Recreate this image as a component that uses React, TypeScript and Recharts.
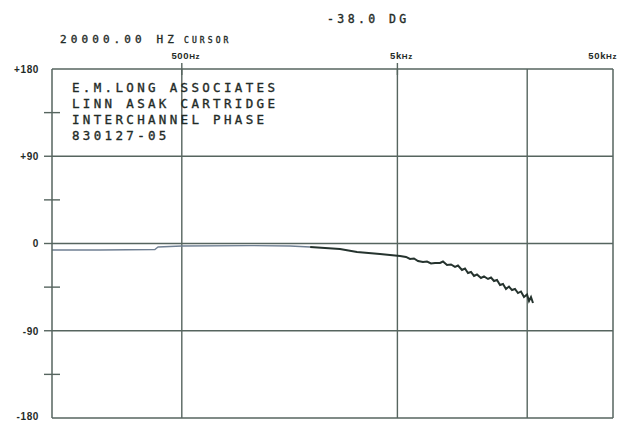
import React from 'react';
import { LineChart, Line, XAxis, YAxis, ReferenceLine } from 'recharts';

// Frequency (Hz) and interchannel phase (degrees)
const freqHz = [
  125, 209, 375, 388, 500, 1036, 1589, 1969, 2707, 3248, 4150, 4618,
  5143, 5481, 5721, 5969, 6230, 6572, 6859, 7160, 7471,
  7880, 8136, 8493, 8863, 9249, 9549, 9966, 10290, 10625, 10972, 11329, 11699,
  12210, 12607, 13159, 13588, 14027, 14486, 14962, 15443, 15944, 16463, 17000,
  17550, 18125, 18710, 19325, 19960, 20390, 20825, 21275,
];
const phaseDeg = [
  -6.7, -6.7, -6.2, -3.6, -2.6, -2.1, -2.6, -3.6, -5.7, -8.8, -10.8, -11.9,
  -12.9, -13.9, -16.0, -15.5, -18.1, -19.1, -18.6, -20.6, -20.1,
  -20.1, -18.6, -22.2, -21.6, -24.2, -22.7, -27.3, -25.8, -30.4, -29.4, -33.5, -32.0,
  -35.6, -34.0, -36.6, -35.1, -38.7, -37.6, -42.8, -41.8, -46.9, -44.4, -48.0,
  -46.9, -51.1, -49.5, -55.2, -52.6, -59.3, -55.2, -61.4,
];
const splitHz = 1969;

const xTicks = [500, 5000, 50000];
const xTickNums = ['500', '5k', '50k'];
const yTicks = [-180, -135, -90, -45, 0, 45, 90, 135, 180];
const yTickLabels: Record<string, string> = { '180': '+180', '90': '+90', '0': '0', '-90': '-90', '-180': '-180' };
const gridFreqs = [500, 5000, 20000];
const gridPhases = [90, 0, -90, -180];
const titleLines = ['E.M.LONG ASSOCIATES', 'LINN ASAK CARTRIDGE', 'INTERCHANNEL PHASE', '830127-05'];
const cursorText = '20000.00 HZ';
const cursorWord = 'CURSOR';
const readoutText = '-38.0 DG';

const GRID = '#56655f';
const INK = '#1f2b27';
const MONO = '"DejaVu Sans Mono", monospace';
const SANS = '"Liberation Sans", Arial, sans-serif';

const data = freqHz.map((f, i) => ({
  f,
  lo: f <= splitHz ? phaseDeg[i] : null,
  hi: f >= splitHz ? phaseDeg[i] : null,
}));

const LeftTick = (props: any) => {
  const { x, y, payload } = props;
  const v = payload.value;
  const label = yTickLabels[String(v)];
  const minor = Math.abs(v) === 45 || Math.abs(v) === 135;
  const major = v === 90 || v === 0 || v === -90;
  return (
    <g>
      {minor && <line x1={x - 8} x2={x + 8} y1={y} y2={y} stroke={GRID} strokeWidth={1.4} />}
      {major && <line x1={x - 8} x2={x} y1={y} y2={y} stroke={GRID} strokeWidth={1.4} />}
      {label && (
        <text x={x - 13} y={y} dy={v === -180 ? 1.5 : 3.8} textAnchor="end" fontFamily={SANS} fontWeight={700}
          fontSize={10} letterSpacing={0.6} fill={INK}>{label}</text>
      )}
    </g>
  );
};

const RightTick = (props: any) => {
  const { x, y, payload } = props;
  const v = payload.value;
  if (Math.abs(v) === 180) return <g />;
  return (
    <g>
      <line x1={x - 8} x2={x + 6} y1={y} y2={y} stroke={GRID} strokeWidth={1.4} />
    </g>
  );
};

const TopTick = (props: any) => {
  const { x, y, payload, index } = props;
  const v = payload.value;
  const last = v === 50000;
  return (
    <g>
      {!last && <line x1={x} x2={x} y1={y - 6} y2={y + 6} stroke={GRID} strokeWidth={1.4} />}
      <text x={x + 4} y={y - 10} textAnchor={last ? 'end' : 'middle'}
        fontFamily={SANS} fontWeight={700} fontSize={9.5} letterSpacing={0.6} fill={INK}>
        {xTickNums[index]}
        <tspan fontSize={8}>Hz</tspan>
      </text>
    </g>
  );
};

export default function App() {
  return (
    <div style={{ position: 'absolute', left: 0, top: 0, width: 626, height: 422, background: '#fff' }}>
      <LineChart width={626} height={422} data={data} margin={{ top: 49, left: 0, right: 5, bottom: 4 }}>
        <XAxis xAxisId="top" orientation="top" dataKey="f" type="number" scale="log"
          domain={[125, 50000]} allowDataOverflow ticks={xTicks} height={20}
          axisLine={{ stroke: GRID, strokeWidth: 1.5 }} tickLine={false} tickSize={0} tickMargin={0}
          tick={<TopTick />} interval={0} />
        <YAxis yAxisId="left" type="number" domain={[-180, 180]} ticks={yTicks} width={52}
          axisLine={{ stroke: GRID, strokeWidth: 1.5 }} tickLine={false} tickSize={0} tickMargin={0}
          tick={<LeftTick />} interval={0} />
        <YAxis yAxisId="right" orientation="right" type="number" domain={[-180, 180]} ticks={yTicks} width={8}
          axisLine={{ stroke: GRID, strokeWidth: 1.5 }} tickLine={false} tickSize={0} tickMargin={0}
          tick={<RightTick />} interval={0} />
        {gridFreqs.map((f) => (
          <ReferenceLine key={'vx' + f} xAxisId="top" yAxisId="left" x={f} stroke={GRID} strokeWidth={1.4} />
        ))}
        {gridPhases.map((p) => (
          <ReferenceLine key={'hy' + p} xAxisId="top" yAxisId="left" y={p} stroke={GRID} strokeWidth={1.4} />
        ))}
        <Line xAxisId="top" yAxisId="left" type="linear" dataKey="lo" stroke="#6f7f92" strokeWidth={1.3}
          dot={false} isAnimationActive={false} connectNulls={false} />
        <Line xAxisId="top" yAxisId="left" type="linear" dataKey="hi" stroke="#25332e" strokeWidth={2}
          dot={false} isAnimationActive={false} connectNulls={false} />
      </LineChart>
      <svg width={626} height={422} style={{ position: 'absolute', left: 0, top: 0, pointerEvents: 'none' }}>
        <text x={327} y={23} fontFamily={MONO} fontSize={11.5} letterSpacing={3.4} fill={INK}
          stroke={INK} strokeWidth={0.35}>{readoutText}</text>
        <text x={60} y={43} fontFamily={MONO} fontSize={11} letterSpacing={4.1} fill={INK}
          stroke={INK} strokeWidth={0.35}>
          {cursorText}
          <tspan x={184} fontSize={8} letterSpacing={3.1}>{cursorWord}</tspan>
        </text>
        {titleLines.map((t, i) => (
          <text key={t} x={72} y={91.7 + i * 16.2} fontFamily={MONO} fontSize={12.5} letterSpacing={3.33}
            fill={INK} stroke={INK} strokeWidth={0.35}>{t}</text>
        ))}
      </svg>
    </div>
  );
}
